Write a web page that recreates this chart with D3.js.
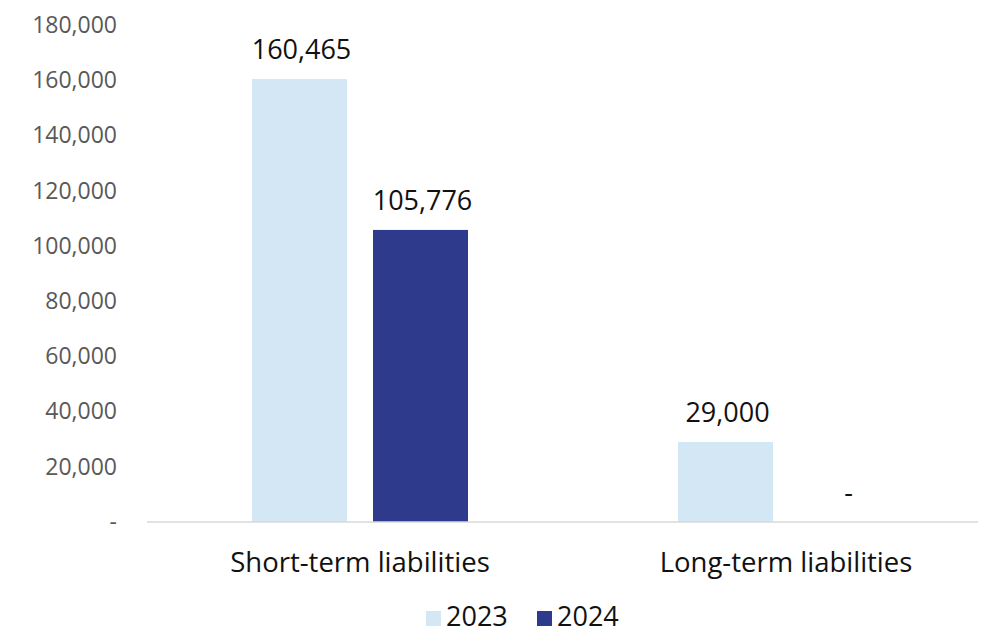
<!DOCTYPE html>
<html>
<head>
<meta charset="utf-8">
<script src="https://cdn.jsdelivr.net/npm/d3@7"></script>
<style>
  html, body { margin: 0; padding: 0; background: #fff; }
  svg { display: block; font-family: "Open Sans", "Noto Sans", sans-serif; }
</style>
</head>
<body>
<svg id="chart" width="992" height="634"></svg>
<script>
// Liabilities by term, 2023 vs 2024
const categories = ["Short-term liabilities", "Long-term liabilities"];
const years = ["2023", "2024"];
const values2023 = [160465, 29000];
const values2024 = [105776, 0];
const yTicks = [0, 20000, 40000, 60000, 80000, 100000, 120000, 140000, 160000, 180000];
const colors = ["#d3e7f4", "#2e3a8b"];

const series = [values2023, values2024];
const fmt = v => v === 0 ? "-" : d3.format(",")(v);

const svg = d3.select("#chart");
const baseY = 522, topY = 25;
const left = 147, right = 978;

const y = d3.scaleLinear().domain([0, 180000]).range([baseY, topY]);
const x0 = d3.scaleBand().domain(categories).range([147, 999]).padding(0);
const x1 = d3.scaleBand().domain(years).range([-108, 108]).paddingInner(0.215).paddingOuter(0);

// y axis labels (no line, no ticks)
const yAxis = d3.axisLeft(y).tickValues(yTicks).tickSize(0).tickPadding(0).tickFormat(fmt);
const gy = svg.append("g").attr("transform", "translate(117,0)").call(yAxis);
gy.select(".domain").remove();
gy.selectAll("text")
  .attr("font-size", 23)
  .attr("fill", "#595959")
  .attr("font-family", "'Open Sans', sans-serif");

// bars
const groups = svg.append("g").selectAll("g")
  .data(categories)
  .join("g")
  .attr("transform", d => `translate(${x0(d) + x0.bandwidth() / 2},0)`);

groups.selectAll("rect")
  .data((d, i) => years.map((yr, j) => ({ yr, v: series[j][i], j })))
  .join("rect")
  .attr("x", d => x1(d.yr))
  .attr("width", x1.bandwidth())
  .attr("y", d => y(d.v))
  .attr("height", d => baseY - y(d.v))
  .attr("fill", d => colors[d.j]);

groups.selectAll("text.val")
  .data((d, i) => years.map((yr, j) => ({ yr, v: series[j][i], j })))
  .join("text")
  .attr("class", "val")
  .attr("x", d => x1(d.yr) + x1.bandwidth() / 2 + 2)
  .attr("y", d => y(d.v) - 20)
  .attr("text-anchor", "middle")
  .attr("font-size", 27)
  .attr("fill", "#111")
  .text(d => fmt(d.v));

// baseline
svg.append("line")
  .attr("x1", left).attr("x2", right)
  .attr("y1", baseY).attr("y2", baseY)
  .attr("stroke", "#d9d9d9").attr("stroke-width", 1.5);

// category labels
const xAxis = d3.axisBottom(x0).tickSize(0).tickPadding(0);
const gx = svg.append("g").attr("transform", `translate(0,${baseY})`).call(xAxis);
gx.select(".domain").remove();
gx.selectAll("text")
  .attr("dy", null)
  .attr("y", 50)
  .attr("font-size", 27.5)
  .attr("fill", "#111")
  .attr("font-family", "'Open Sans', sans-serif");

// legend
const legendX = [426, 537];
const lg = svg.append("g").selectAll("g").data(years).join("g")
  .attr("transform", (d, i) => `translate(${legendX[i]},0)`);
lg.append("rect").attr("x", 0).attr("y", 611).attr("width", 15).attr("height", 15)
  .attr("fill", (d, i) => colors[i]);
lg.append("text").attr("x", 20).attr("y", 626)
  .attr("font-size", 27).attr("fill", "#111").text(d => d);
</script>
</body>
</html>
